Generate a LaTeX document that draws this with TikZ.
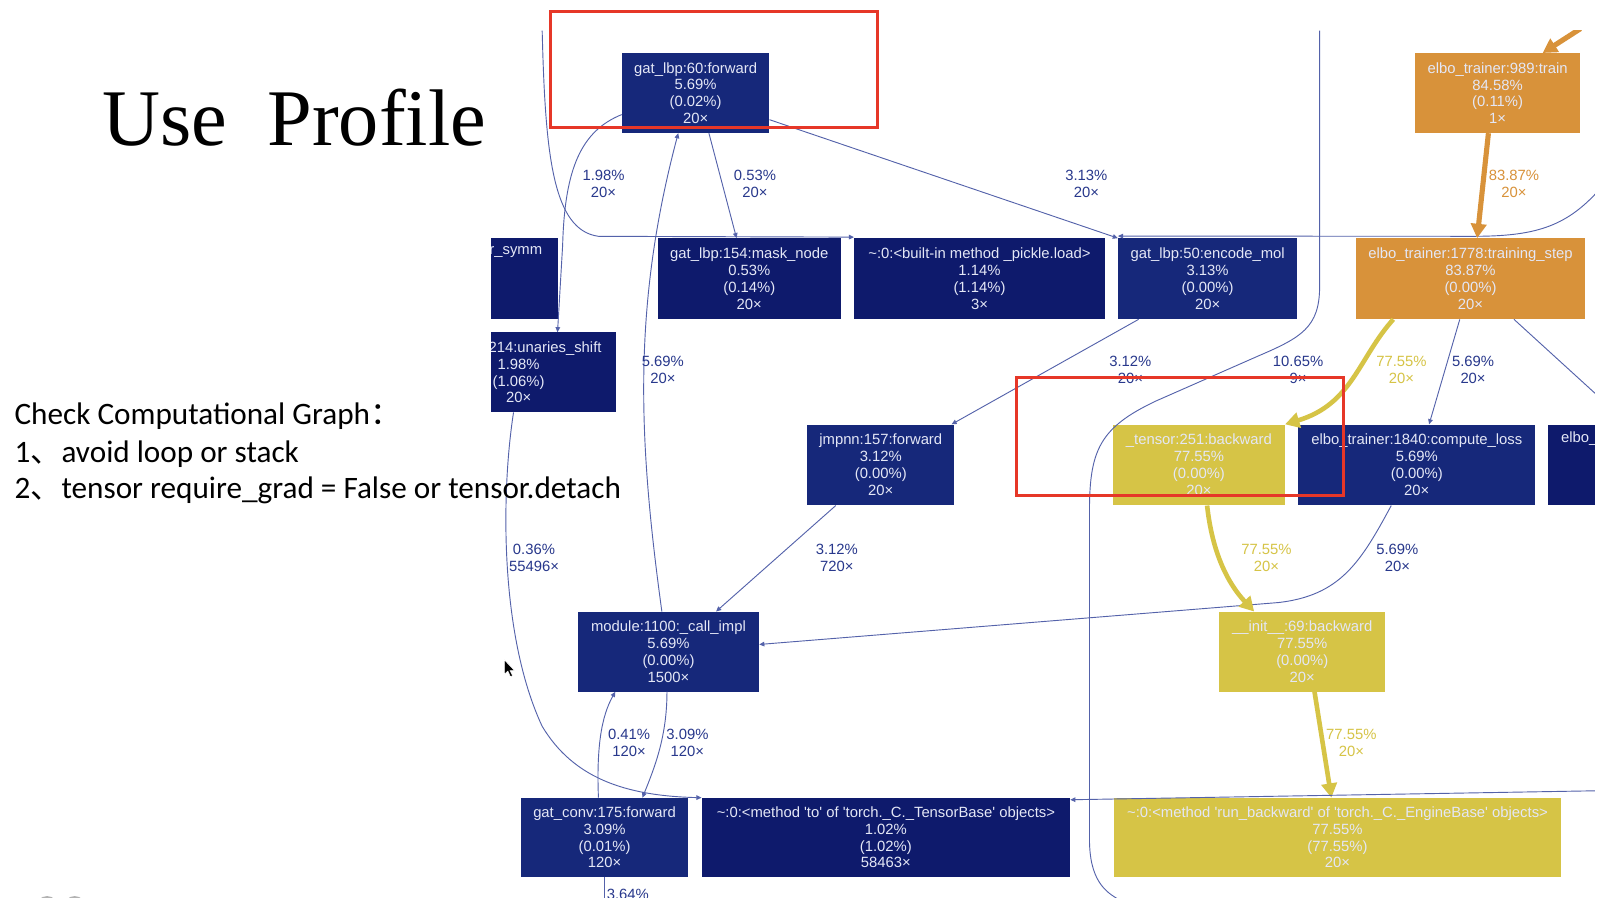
\documentclass[tikz,border=0pt]{standalone}
\usepackage{fontspec}
\setmainfont{Liberation Sans}
\newfontfamily\titlefont{Liberation Serif}
\newfontfamily\notefont{Carlito}
\newfontfamily\cjkfont{Noto Sans CJK SC}
\usepackage{tikz}
\usetikzlibrary{arrows.meta}

\definecolor{navylight}{RGB}{22,40,122}
\definecolor{navydark}{RGB}{14,26,108}
\definecolor{fnorange}{RGB}{216,146,58}
\definecolor{fnyellow}{RGB}{214,196,70}
\definecolor{fntext}{RGB}{228,231,246}
\definecolor{edgeblue}{RGB}{84,98,170}
\definecolor{lblblue}{RGB}{40,56,140}
\definecolor{boxred}{RGB}{230,55,40}

\begin{document}
\begin{tikzpicture}[x=1pt, y=-1pt, font=\fontsize{14.5}{16.5}\selectfont]
    \tikzstyle{fn_light} = [rectangle, fill=navylight, text=fntext, inner sep=0, align=center]
    \tikzstyle{fn_dark} = [rectangle, fill=navydark, text=fntext, inner sep=0, align=center]
    \tikzstyle{fn_orange} = [rectangle, fill=fnorange, text=fntext, inner sep=0, align=center]
    \tikzstyle{fn_yellow} = [rectangle, fill=fnyellow, text=fntext, inner sep=0, align=center]
    \tikzstyle{edge_line} = [draw=edgeblue, line width=0.9]
    \tikzstyle{edge_thin} = [edge_line, -{Triangle[length=5pt,width=4.5pt]}]
    \tikzstyle{edge_orange} = [draw=fnorange, line width=5, -{Triangle[length=14pt,width=15pt]}]
    \tikzstyle{edge_yellow} = [draw=fnyellow, line width=4.5, -{Triangle[length=14pt,width=15pt]}]
    \tikzstyle{lbl_blue} = [text=lblblue, inner sep=0, align=center]
    \tikzstyle{lbl_orange} = [text=fnorange, inner sep=0, align=center]
    \tikzstyle{lbl_yellow} = [text=fnyellow, inner sep=0, align=center]
    \tikzstyle{red_box} = [draw=boxred, line width=3]
    \tikzstyle{note_line} = [anchor=base west, inner sep=0, font=\notefont\fontsize{30.5}{36}\selectfont]

    \useasboundingbox (0,0) rectangle (1568,877);
    \fill[white] (0,0) rectangle (1568,877);

    \begin{scope}
    \clip (480,30) rectangle (1559,877);
    % call graph boxes
    \node[fn_light, minimum width=144pt, minimum height=78pt] (fwd60) at (680,91) {gat\_lbp:60:forward\\5.69\%\\(0.02\%)\\20×};
    \node[fn_orange, minimum width=162pt, minimum height=78pt] (train) at (1464,91) {elbo\_trainer:989:train\\84.58\%\\(0.11\%)\\1×};
    \node[fn_dark, minimum width=165pt, minimum height=79pt, text width=135pt, align=right] (symm) at (462.5,272.5) {r\_symm\\\strut\\\strut\\\strut};
    \node[fn_dark, minimum width=179pt, minimum height=79pt] (mask) at (732.5,272.5) {gat\_lbp:154:mask\_node\\0.53\%\\(0.14\%)\\20×};
    \node[fn_dark, minimum width=245pt, minimum height=79pt] (pickle) at (957.5,272.5) {\textasciitilde:0:<built-in method \_pickle.load>\\1.14\%\\(1.14\%)\\3×};
    \node[fn_light, minimum width=175pt, minimum height=79pt] (encmol) at (1180.5,272.5) {gat\_lbp:50:encode\_mol\\3.13\%\\(0.00\%)\\20×};
    \node[fn_orange, minimum width=223pt, minimum height=79pt] (tstep) at (1437.5,272.5) {elbo\_trainer:1778:training\_step\\83.87\%\\(0.00\%)\\20×};
    \node[fn_dark, minimum width=190pt, minimum height=78pt] (unaries) at (507,364) {\hphantom{gat\_lbp:}214:unaries\_shift\\1.98\%\\(1.06\%)\\20×};
    \node[fn_light, minimum width=144pt, minimum height=79pt] (jmpnn) at (861,454.5) {jmpnn:157:forward\\3.12\%\\(0.00\%)\\20×};
    \node[fn_yellow, minimum width=168pt, minimum height=79pt] (tback) at (1172,454.5) {\_tensor:251:backward\\77.55\%\\(0.00\%)\\20×};
    \node[fn_light, minimum width=232pt, minimum height=79pt] (closs) at (1385,454.5) {elbo\_trainer:1840:compute\_loss\\5.69\%\\(0.00\%)\\20×};
    \node[fn_dark, minimum width=200pt, minimum height=79pt, text width=174pt, align=left] (elbo) at (1613,454.5) {elbo\_\\\strut\\\strut\\\strut};
    \node[fn_light, minimum width=177pt, minimum height=78pt] (module) at (653.5,637) {module:1100:\_call\_impl\\5.69\%\\(0.00\%)\\1500×};
    \node[fn_yellow, minimum width=162pt, minimum height=78pt] (iback) at (1273,637) {\_\_init\_\_:69:backward\\77.55\%\\(0.00\%)\\20×};
    \node[fn_light, minimum width=164pt, minimum height=77pt] (gconv) at (591,818.5) {gat\_conv:175:forward\\3.09\%\\(0.01\%)\\120×};
    \node[fn_dark, minimum width=360pt, minimum height=77pt] (tomethod) at (866,818.5) {\textasciitilde:0:<method \textquotesingle to\textquotesingle\ of \textquotesingle torch.\_C.\_TensorBase\textquotesingle\ objects>\\1.02\%\\(1.02\%)\\58463×};
    \node[fn_yellow, minimum width=437pt, minimum height=77pt] (runback) at (1307.5,818.5) {\textasciitilde:0:<method \textquotesingle run\_backward\textquotesingle\ of \textquotesingle torch.\_C.\_EngineBase\textquotesingle\ objects>\\77.55\%\\(77.55\%)\\20×};

    % loose ends of edges leaving the view
    \coordinate (topA) at (530,30);
    \coordinate (topB) at (1290,30);
    \coordinate (topC) at (1545,28);
    \coordinate (rightA) at (1562,187);
    \coordinate (rightB) at (1562,387);
    \coordinate (rightC) at (1562,773);
    \coordinate (botA) at (591,880);
    \coordinate (botB) at (1095,880);

    % edges
    \draw[edge_thin] ([yshift=-21pt]fwd60.west) .. controls (568,128) and (552,165) .. (550,240) -- ([xshift=38pt]unaries.north);
    \draw[edge_thin] ([xshift=13pt]fwd60.south) -- ([xshift=-12.5pt]mask.north);
    \draw[edge_thin] ([yshift=-26pt]fwd60.east) -- (encmol.north west);
    \draw[edge_thin] ([xshift=-6.5pt]module.north) .. controls (624,430) and (618,300) .. ([xshift=-17pt]fwd60.south);
    \draw[edge_thin] (topA) .. controls (533,150) and (540,225) .. (585,231) -- ([yshift=1pt]pickle.north west);
    \draw[edge_thin] (rightA) .. controls (1530,222) and (1500,231) .. (1440,231) -- ([yshift=2pt]encmol.north west);
    \draw[edge_line] (topB) -- (1290,280) .. controls (1290,320) and (1272,330) .. (1230,348) -- (1130,392) .. controls (1075,418) and (1065,440) .. (1065,500) -- (1065,820) .. controls (1065,860) and (1080,872) .. (botB);
    \draw[edge_thin] ([xshift=-67.5pt]encmol.south) -- ([xshift=-3pt]jmpnn.north east);
    \draw[edge_yellow] ([xshift=-75.5pt]tstep.south) .. controls (1328,350) and (1322,395) .. (tback.north east);
    \draw[edge_thin] ([xshift=-10.5pt]tstep.south) -- ([xshift=12pt]closs.north);
    \draw[edge_line] ([xshift=42.5pt]tstep.south) -- (rightB);
    \draw[edge_orange] ([xshift=-9pt]train.south) -- ([xshift=6.5pt]tstep.north);
    \draw[edge_orange] (topC) -- ([xshift=44pt]train.north);
    \draw[edge_thin] ([xshift=-44pt]jmpnn.south) -- ([xshift=46.5pt]module.north);
    \draw[edge_thin] ([xshift=-25pt]closs.south) .. controls (1330,550) and (1310,582) .. (1250,589) -- ([yshift=7pt]module.east);
    \draw[edge_yellow] ([xshift=8pt]tback.south) .. controls (1185,540) and (1200,570) .. ([xshift=-47pt]iback.north);
    \draw[edge_yellow] ([xshift=12pt]iback.south) -- ([xshift=-6pt]runback.north);
    \draw[edge_thin] ([xshift=-5pt]unaries.south) .. controls (490,480) and (488,620) .. (530,710) .. controls (560,760) and (610,778) .. (tomethod.north west);
    \draw[edge_thin] ([xshift=-1.5pt]module.south) .. controls (652,720) and (640,750) .. ([xshift=37pt]gconv.north);
    \draw[edge_thin] ([xshift=-6pt]gconv.north) .. controls (583,730) and (588,700) .. ([xshift=-52pt]module.south);
    \draw[edge_line] (gconv.south) -- (botA);
    \draw[edge_thin] (rightC) -- ([yshift=-2pt]tomethod.north east);

    % edge labels
    \node[lbl_blue] (l_fu) at (590,180) {1.98\%\\20×};
    \node[lbl_blue] (l_fm) at (738,180) {0.53\%\\20×};
    \node[lbl_blue] (l_fe) at (1062,180) {3.13\%\\20×};
    \node[lbl_orange] (l_tt) at (1480,180) {83.87\%\\20×};
    \node[lbl_blue] (l_mf) at (648,362) {5.69\%\\20×};
    \node[lbl_blue] (l_ej) at (1105,362) {3.12\%\\20×};
    \node[lbl_blue] (l_tb) at (1269,362) {10.65\%\\9×};
    \node[lbl_yellow] (l_st) at (1370,362) {77.55\%\\20×};
    \node[lbl_blue] (l_sc) at (1440,362) {5.69\%\\20×};
    \node[lbl_blue] (l_ut) at (522,545) {0.36\%\\55496×};
    \node[lbl_blue] (l_jm) at (818,545) {3.12\%\\720×};
    \node[lbl_yellow] (l_ti) at (1238,545) {77.55\%\\20×};
    \node[lbl_blue] (l_cm) at (1366,545) {5.69\%\\20×};
    \node[lbl_blue] (l_gm) at (615,726) {0.41\%\\120×};
    \node[lbl_blue] (l_mg) at (672,726) {3.09\%\\120×};
    \node[lbl_yellow] (l_ir) at (1321,726) {77.55\%\\20×};
    \node[lbl_blue, anchor=north west] (l_gd) at (593,869) {3.64\%};
    \end{scope}

    % highlights
    \draw[red_box] (538,11) rectangle (858,125);
    \draw[red_box] (994,369) rectangle (1313,484);

    % slide text
    \node[anchor=base west, inner sep=0, font=\titlefont\fontsize{78.5}{80}\selectfont] (title) at (100,142) {Use\ \ Profile};
    \node[note_line] (check) at (14,415) {Check Computational Graph{\cjkfont ：}};
    \node[note_line] (tip1) at (14,452) {1{\cjkfont 、}avoid loop or stack};
    \node[note_line] (tip2) at (14,487) {2{\cjkfont 、}tensor require\_grad = False or tensor.detach};

    % mouse pointer and page controls
    \filldraw[fill=black, draw=white, line width=0.5] (493,645) -- (493,659) -- (496.5,656) -- (499,661.5) -- (501,660.5) -- (498.5,655.5) -- (503,655.5) -- cycle;
    \draw[gray!60, line width=2] (18,891) circle[radius=10pt];
    \draw[gray!60, line width=2] (46,887) circle[radius=10pt];
    \draw[gray!60, line width=2] (73,887) circle[radius=10pt];
\end{tikzpicture}
\end{document}
